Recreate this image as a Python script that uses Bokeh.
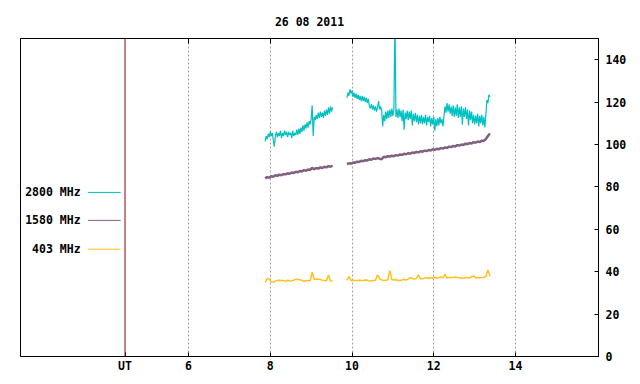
import numpy as np
from bokeh.plotting import figure
from bokeh.models import Range1d, LinearAxis, FixedTicker, Span
from bokeh.core.properties import value
from bokeh.embed import file_html
from bokeh.resources import INLINE

# ---------------- data ----------------
title_text = "26 08 2011"
series_names = ["2800 MHz", "1580 MHz", "403 MHz"]
series_colors = ["#00C0C0", "#806080", "#FFC020"]
x_ticks = [6, 8, 10, 12, 14]
y_ticks = [0, 20, 40, 60, 80, 100, 120, 140]
ut_hour = 4.447
ut_label = "UT"

# 2800 MHz, sampled every 0.025 h
f2800_start = [7.875, 9.875]
f2800_step = 0.025
f2800_seg1 = [101.5, 104, 102.5, 105, 103.5, 106, 104, 105.5, 102, 99,
              104, 106, 103.5, 105.5, 104, 106.5, 103, 105.5, 104, 106.5,
              104.5, 106, 103.5, 106, 104.5, 105.5, 103, 106.5, 104, 105.5,
              104.5, 107, 104.5, 107.5, 105, 108, 106, 109, 106.5, 109.5,
              107.5, 110.5, 108, 111, 109.5, 112, 118.5, 104, 113, 111.5,
              114, 112, 115, 112.5, 115.5, 113, 115, 112.5, 116, 113.5,
              116.5, 114, 117.5, 114.5, 118, 115.5, 117.5]
f2800_seg2 = [122, 124.5, 123, 126, 124, 125.5, 122.5, 124.5, 122, 124,
              121.5, 123.5, 121, 123, 120.5, 123, 120.5, 122.5, 120, 122,
              119.5, 121.5, 118, 117, 119, 116.5, 118.5, 116, 118, 115.5,
              117.5, 120.5, 116.5, 118, 116, 108.5, 114, 111, 115.5, 112,
              116, 112.5, 116.5, 113, 117, 113.5, 116.5, 160, 113, 116.5,
              112.5, 117, 113, 116, 111, 116.5, 107, 115, 112, 116,
              111.5, 115.5, 112, 116, 109, 114.5, 111, 115, 110.5, 114,
              109.5, 113.5, 110, 114, 109.5, 113, 110, 114, 109, 113,
              110.5, 113.5, 108.5, 112.5, 109.5, 113, 106.5, 112, 108.5, 112.5,
              109, 113, 110, 112, 108.5, 113.5, 118, 115, 119.5, 115.5,
              119, 114.5, 118, 113.5, 118.5, 113, 117.5, 113.5, 119, 112.5,
              117.5, 113, 118, 109.5, 117, 113, 117.5, 112, 116.5, 109,
              116, 111.5, 115.5, 110, 114, 109.5, 113.5, 110, 114.5, 108.5,
              113.5, 110, 114, 109, 113, 108, 114, 121, 119.5, 123.5,
              122.5]

# 1580 MHz, sampled every 0.05 h
f1580_start = [7.875, 9.875]
f1580_step = 0.05
f1580_seg1 = [84.0, 84.6, 84.3, 85.0, 84.8, 85.5, 85.2, 85.8, 85.5, 86.1,
              85.9, 86.4, 86.2, 86.8, 86.6, 87.1, 86.9, 87.5, 87.3, 87.9,
              87.6, 88.2, 88.0, 89.0, 88.4, 88.9, 88.6, 89.2, 88.9, 89.5,
              89.2, 89.8, 89.5, 90.0]
f1580_seg2 = [90.8, 91.1, 91.0, 91.5, 91.4, 91.9, 91.8, 92.3, 92.1, 92.6,
              92.5, 93.0, 92.8, 93.4, 93.2, 93.6, 93.3, 93.0, 94.2, 94.0,
              94.5, 94.3, 94.7, 94.5, 95.0, 94.8, 95.3, 95.1, 95.6, 95.4,
              95.9, 95.7, 96.2, 96.0, 96.5, 96.3, 96.8, 96.6, 97.1, 96.9,
              97.4, 97.2, 97.7, 97.5, 98.0, 97.8, 98.3, 98.1, 98.6, 98.4,
              99.0, 98.8, 99.3, 99.1, 99.7, 99.5, 100.0, 99.8, 100.4, 100.2,
              100.7, 100.5, 101.1, 100.9, 101.4, 101.2, 101.8, 101.7, 102.6, 104.0,
              105.2]

# 403 MHz, sampled every 0.05 h
f403_start = [7.875, 9.875]
f403_step = 0.05
f403_seg1 = [35.0, 36.8, 36.5, 35.2, 35.0, 35.6, 35.9, 36.0, 35.8, 35.9,
             35.5, 36.0, 35.7, 35.6, 36.0, 36.4, 36.3, 36.2, 35.9, 35.5,
             35.7, 35.9, 35.6, 39.8, 36.4, 36.5, 36.4, 36.3, 36.0, 35.9,
             35.7, 38.5, 35.6, 35.6]
f403_seg2 = [35.9, 37.8, 35.8, 36.0, 35.9, 35.9, 36.0, 35.8, 35.9, 36.1,
             36.0, 35.6, 35.7, 35.9, 36.0, 38.5, 36.6, 36.1, 36.0, 35.9,
             36.2, 40.6, 36.3, 36.1, 36.2, 36.0, 35.8, 36.1, 36.4, 36.0,
             36.6, 37.2, 36.8, 36.5, 36.9, 38.5, 36.7, 36.6, 37.0, 37.2,
             36.8, 37.3, 37.0, 37.4, 36.9, 37.2, 37.5, 37.1, 38.7, 37.0,
             37.3, 37.4, 37.2, 37.5, 37.3, 37.2, 36.8, 37.0, 37.3, 37.2,
             37.0, 37.6, 38.0, 37.2, 37.3, 37.1, 37.3, 37.4, 37.6, 40.8,
             37.8]


def series_xy(starts, step, segs):
    xs, ys = [], []
    for i, (s, seg) in enumerate(zip(starts, segs)):
        if i > 0:
            xs.append(np.nan)
            ys.append(np.nan)
        xs.extend(list(s + step * np.arange(len(seg))))
        ys.extend(seg)
    return np.array(xs, dtype=float), np.array(ys, dtype=float)


series = [
    series_xy(f2800_start, f2800_step, [f2800_seg1, f2800_seg2]),
    series_xy(f1580_start, f1580_step, [f1580_seg1, f1580_seg2]),
    series_xy(f403_start, f403_step, [f403_seg1, f403_seg2]),
]
series_widths = [1.2, 2.5, 1.5]

# ---------------- figure ----------------
FONT = "DejaVu Sans Mono"
FS = "11.5px"

p = figure(width=632, height=376, output_backend="svg", toolbar_location=None,
           x_range=Range1d(1.89, 16.03), y_range=Range1d(0, 150),
           min_border_left=20, min_border_right=34, min_border_top=38,
           min_border_bottom=20, x_axis_location="below", y_axis_location="right")
p.background_fill_color = "white"
p.border_fill_color = "white"
p.outline_line_color = "black"
p.outline_line_width = 1

# title
p.title.text = title_text
p.title.align = "center"
p.title.text_font = FONT
p.title.text_font_style = "bold"
p.title.text_font_size = FS
p.title.text_color = "black"
p.title.standoff = 19

# axes
xa = p.xaxis[0]
xa.ticker = FixedTicker(ticks=[ut_hour] + x_ticks)
xa.major_label_overrides = {ut_hour: ut_label}
xa.major_tick_in = 4
xa.major_tick_out = 0
xa.minor_tick_line_color = None
xa.axis_line_color = "black"
xa.major_label_standoff = 2
xa.major_label_text_font = FONT
xa.major_label_text_font_style = "bold"
xa.major_label_text_font_size = FS
xa.major_label_text_color = "black"

ya = p.yaxis[0]
ya.ticker = FixedTicker(ticks=y_ticks)
ya.major_tick_in = 4
ya.major_tick_out = 0
ya.minor_tick_line_color = None
ya.axis_line_color = "black"
ya.major_label_standoff = 7
ya.major_label_text_font = FONT
ya.major_label_text_font_style = "bold"
ya.major_label_text_font_size = FS
ya.major_label_text_color = "black"
ya.major_label_text_align = "left"

top_axis = LinearAxis(ticker=FixedTicker(ticks=x_ticks), major_tick_in=5, major_tick_out=0,
                      minor_tick_line_color=None, major_label_text_color=None,
                      major_label_text_font_size="1px", major_label_standoff=0)
p.add_layout(top_axis, "above")

# grid
p.ygrid.grid_line_color = None
p.xgrid.ticker = FixedTicker(ticks=x_ticks)
p.xgrid.grid_line_color = "#a0a0a0"
p.xgrid.grid_line_dash = "2 2"
p.xgrid.grid_line_width = 1

# UT line
p.add_layout(Span(location=ut_hour, dimension="height", line_color="#900000", line_width=1))

# data lines
for (xs, ys), col, w in zip(series, series_colors, series_widths):
    p.line(xs, ys, line_color=col, line_width=w)

# legend (text left of a short line)
leg_y = [77.4, 64.2, 50.6]
p.text(x=[3.36] * 3, y=leg_y, text=series_names, text_align="right", text_baseline="middle",
       text_font=value(FONT), text_font_style="bold", text_font_size=FS, text_color="black")
p.segment(x0=[3.54] * 3, y0=leg_y, x1=[4.34] * 3, y1=leg_y, line_color=series_colors, line_width=1)

open("out.html", "w").write(file_html(p, INLINE))
